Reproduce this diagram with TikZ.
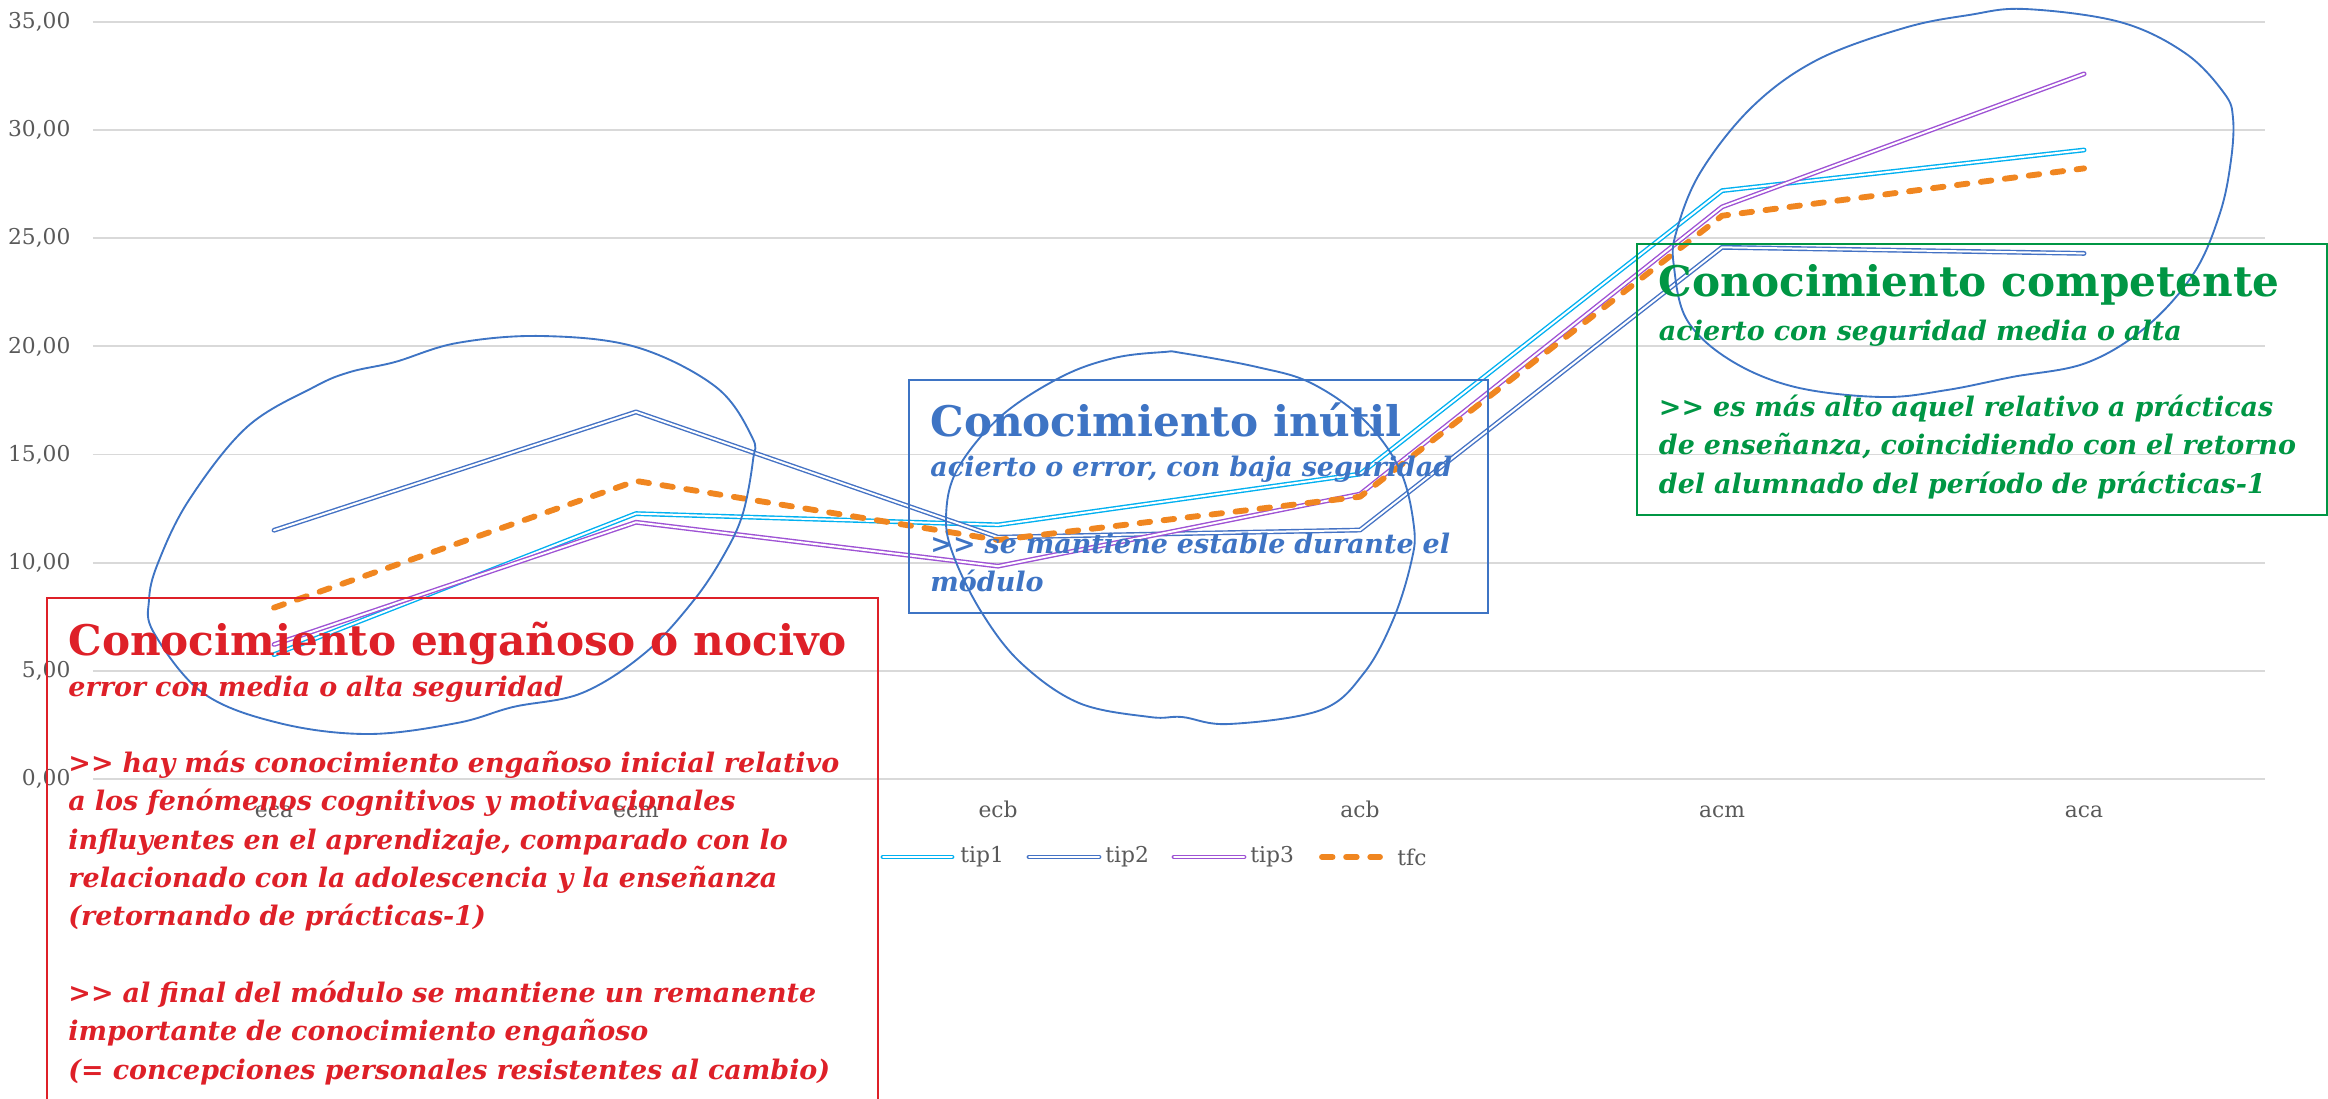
\documentclass[tikz,border=0pt]{standalone}
\usepackage{fontspec}
\setmainfont{DejaVu Serif}[Ligatures=TeXOff]

\definecolor{tipcyan}{RGB}{0,176,240}
\definecolor{tipblue}{RGB}{68,114,196}
\definecolor{tippurple}{RGB}{158,82,212}
\definecolor{tfcorange}{RGB}{240,134,32}
\definecolor{gridgray}{RGB}{217,217,217}
\definecolor{axisgray}{RGB}{89,89,89}
\definecolor{notered}{RGB}{222,32,40}
\definecolor{noteblue}{RGB}{62,116,196}
\definecolor{notegreen}{RGB}{0,150,68}

\tikzset{
  gridline/.style={draw=gridgray, line width=0.8pt},
  ticklabel/.style={text=axisgray, inner sep=0pt, font=\fontsize{9.3}{10}\selectfont},
  series/.style={double=white, double distance=0.85pt, line width=0.6pt, line cap=round, line join=round},
  tipone/.style={series, draw=tipcyan},
  tiptwo/.style={series, draw=tipblue},
  tipthree/.style={series, draw=tippurple},
  tfcline/.style={draw=tfcorange, line width=2.5pt, line cap=round, line join=round, dash pattern=on 4.5pt off 5.8pt},
  blob/.style={draw=noteblue, line width=0.8pt},
  notebox/.style={line width=0.8pt},
  notetitle/.style={anchor=base west, inner sep=0pt, font=\bfseries\fontsize{18}{20}\selectfont},
  notebody/.style={anchor=base west, inner sep=0pt, text width=12cm, align=left,
    font=\bfseries\itshape\fontsize{11.5}{16.35}\selectfont},
}

\begin{document}
\begin{tikzpicture}[x=0.015cm, y=-0.015cm]
    \useasboundingbox (0,0) rectangle (2328,1098);
    \clip (0,0) rectangle (2328,1098);

    % Chart area: one unit per category, one unit per value
    \begin{scope}[shift={(274,779)}, x=5.43cm, y=0.32445cm]
      % Add the grid and the value labels
      \foreach \v in {0,5,...,35} {
        \draw[gridline] (-0.5,\v) -- (5.5,\v);
        \node[ticklabel, anchor=east] (tick\v) at (-0.561,\v) {\v,00};
      }

      % Add the category labels
      \foreach \c [count=\i from 0] in {eca,ecm,ecb,acb,acm,aca}
        \node[ticklabel, anchor=base] (cat-\c) at (\i,-1.78) {\c};

      % Draw the series
      \draw[tipone] plot coordinates {(0,5.75) (1,12.27) (2,11.75) (3,14.1) (4,27.2) (5,29.08)};
      \draw[tiptwo] plot coordinates {(0,11.5) (1,16.97) (2,11.18) (3,11.51) (4,24.58) (5,24.3)};
      \draw[tipthree] plot coordinates {(0,6.22) (1,11.87) (2,9.84) (3,13.17) (4,26.45) (5,32.6)};
      \draw[tfcline] plot coordinates {(0,7.92) (1,13.78) (2,11.05) (3,13.05) (4,26.04) (5,28.23)};
    \end{scope}

    % Add the legend
    \foreach \lstyle/\lname/\xa/\xb/\xt in {tipone/tip1/883/952/960, tiptwo/tip2/1029/1099/1105,
        tipthree/tip3/1174/1244/1250, tfcline/tfc/1322/1380/1397} {
      \coordinate (\lname-a) at (\xa,857);
      \coordinate (\lname-b) at (\xb,857);
      \draw[\lstyle] (\lname-a) -- (\lname-b);
      \node[ticklabel, anchor=west] (\lname-label) at (\xt,857) {\lname};
    }

    % Draw the hand-drawn rings
    \draw[blob] plot[smooth cycle, tension=0.6] coordinates {(542,336) (636,347) (716,387) (752,437)
      (753,460) (743,513) (725,553) (694,600) (645,653) (582,693) (513,707) (457,723) (368,734)
      (279,723) (203,693) (154,633) (149,600) (158,563) (189,500) (247,427) (314,387) (350,372)
      (395,362) (457,343)};
    \draw[blob] plot[smooth cycle, tension=0.6] coordinates {(1164,352) (1182,353) (1257,367)
      (1311,383) (1364,420) (1400,470) (1414,527) (1411,563) (1393,620) (1364,673) (1321,710)
      (1229,724) (1182,717) (1150,717) (1079,703) (1021,663) (982,613) (954,557) (946,517)
      (957,470) (1000,417) (1061,377) (1114,358)};
    \draw[blob] plot[smooth cycle, tension=0.6] coordinates {(2025,9) (2120,22) (2185,53) (2224,93)
      (2233,118) (2231,160) (2220,213) (2194,273) (2146,327) (2086,363) (2012,377) (1947,390)
      (1882,397) (1795,387) (1730,360) (1687,320) (1674,267) (1676,233) (1700,173) (1752,107)
      (1817,60) (1904,28) (1969,15)};

    % Draw the note boxes
    \draw[notebox, draw=notered, line width=0.7pt] (47,598) rectangle (878,1120);
    \draw[notebox, draw=noteblue] (909,380) rectangle (1488,613);
    \draw[notebox, draw=notegreen] (1637,244) rectangle (2327,515);

    % Add the notes
    \node[notetitle, text=notered] (redtitle) at (68,655) {Conocimiento engañoso o nocivo};
    \node[notebody, text=notered] (redbody) at (68,696) {error con media o alta seguridad\\[16.35pt]
      >> hay más conocimiento engañoso inicial relativo\\
      a los fenómenos cognitivos y motivacionales\\
      influyentes en el aprendizaje, comparado con lo\\
      relacionado con la adolescencia y la enseñanza\\
      (retornando de prácticas-1)\\[16.35pt]
      >> al final del módulo se mantiene un remanente\\
      importante de conocimiento engañoso\\
      (= concepciones personales resistentes al cambio)};

    \node[notetitle, text=noteblue] (bluetitle) at (930,436) {Conocimiento inútil};
    \node[notebody, text=noteblue] (bluebody) at (930,476.7) {acierto o error, con baja seguridad\\[16.35pt]
      >> se mantiene estable durante el\\
      módulo};

    \node[notetitle, text=notegreen] (greentitle) at (1658.5,296.7) {Conocimiento competente};
    \node[notebody, text=notegreen] (greenbody) at (1658.5,340) {acierto con seguridad media o alta\\[16.35pt]
      >> es más alto aquel relativo a prácticas\\
      de enseñanza, coincidiendo con el retorno\\
      del alumnado del período de prácticas-1};
\end{tikzpicture}
\end{document}
